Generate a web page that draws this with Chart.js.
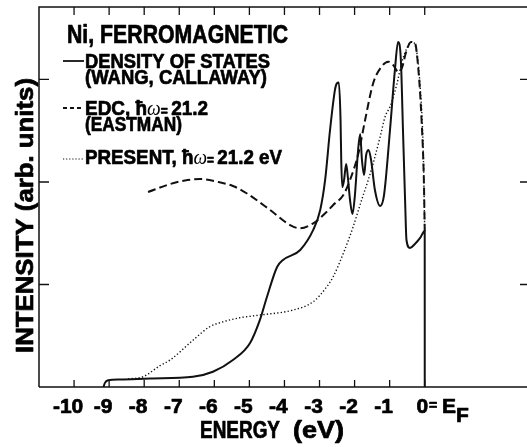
<!DOCTYPE html>
<html><head><meta charset="utf-8">
<script src="https://cdn.jsdelivr.net/npm/chart.js@4/dist/chart.umd.min.js"></script>
<style>html,body{margin:0;padding:0;background:#fff;overflow:hidden}</style>
</head><body>
<canvas id="c" width="527" height="447"></canvas>
<script>
// ---- data (energy in eV, intensity in arb. units) ----
const dosE = [-9.16,-9.12,-9.03,-8.69,-7.83,-6.61,-6.04,-5.47,-4.98,-4.70,-4.50,-4.21,-4.04,-3.55,-3.18,-2.98,-2.84,-2.70,-2.56,-2.51,-2.45,-2.40,-2.38,-2.35,-2.30,-2.24,-2.19,-2.13,-2.06,-1.99,-1.90,-1.84,-1.79,-1.73,-1.67,-1.60,-1.53,-1.42,-1.27,-1.16,-0.99,-0.85,-0.76,-0.68,-0.62,-0.56,-0.52,-0.42,-0.28,-0.13,0,0.001];
const dosV = [0,0.04,0.065,0.073,0.083,0.10,0.149,0.263,0.429,0.654,0.878,1.171,1.239,1.337,1.532,1.727,2.02,2.507,2.898,2.96,2.97,2.60,2.20,1.95,2.02,2.176,2.039,1.824,1.688,1.873,2.312,2.468,2.215,2.068,2.263,2.312,2.215,1.922,1.766,1.873,2.507,3.093,3.366,3.19,2.507,1.824,1.434,1.356,1.395,1.454,1.522,0];

const edcE = [-7.89,-7.26,-6.84,-6.41,-5.93,-5.47,-5.08,-4.41,-3.84,-3.56,-3.18,-2.79,-2.61,-2.32,-2.13,-1.89,-1.70,-1.47,-1.23,-1.04,-0.90,-0.75,-0.65,-0.53,-0.39,-0.28,-0.18,-0.09,-0.02,0];
const edcV = [1.902,1.98,2.015,2.029,2.003,1.961,1.89,1.727,1.58,1.548,1.597,1.71,1.776,1.873,2.02,2.28,2.605,2.963,3.125,3.174,3.141,3.073,3.112,3.268,3.366,3.356,3.093,2.605,1.954,1.522];

const presE = [-8.46,-8.03,-7.55,-7.26,-6.60,-6.14,-5.76,-5.28,-4.70,-3.75,-3.18,-2.79,-2.61,-2.32,-2.04,-1.80,-1.61,-1.47,-1.27,-1.13,-0.99,-0.80,-0.66,-0.51,-0.37,-0.25,-0.13,-0.04,0];
const presV = [0.078,0.10,0.208,0.264,0.459,0.586,0.635,0.675,0.702,0.751,0.832,0.979,1.076,1.304,1.564,1.824,2.02,2.182,2.442,2.637,2.735,2.946,3.158,3.304,3.369,3.307,2.929,2.28,1.522];

const xTickVals = [-10,-9,-8,-7,-6,-5,-4,-3,-2,-1,0];
const xTickLabels = ['-10','-9','-8','-7','-6','-5','-4','-3','-2','-1','0'];
const yTickVals = [1,2,3];

const titleText = 'Ni, FERROMAGNETIC';
const xTitle = ['ENERGY','(eV)'];
const yTitle = 'INTENSITY (arb. units)';

const toXY = (E,V) => E.map((e,i)=>({x:e,y:V[i]}));

const BOLD = (s)=>'bold '+s+'px "Liberation Sans", Arial, sans-serif';
const ITAL = (s)=>'italic '+s+'px "Liberation Serif", serif';
const HEAVY = 0.7;

function drawSegs(ctx, segs, x, y, targetW){
  let total=0;
  segs.forEach(s=>{ctx.font=s[1]; total+=ctx.measureText(s[0]).width;});
  const sx = targetW ? targetW/total : 1;
  ctx.save(); ctx.translate(x,y); ctx.scale(sx,1);
  ctx.lineWidth=HEAVY; ctx.strokeStyle='#000'; ctx.setLineDash([]); ctx.lineJoin='round';
  let cx=0;
  segs.forEach(s=>{ctx.font=s[1]; ctx.fillText(s[0],cx,s[2]||0);
    if(!s[1].startsWith('italic')) ctx.strokeText(s[0],cx,s[2]||0);
    cx+=ctx.measureText(s[0]).width;});
  ctx.restore();
}

const deco = {
  id:'deco',
  afterDatasetsDraw(chart){
    const {ctx, chartArea:a, scales:{x,y}} = chart;
    ctx.save();
    ctx.strokeStyle='#111'; ctx.fillStyle='#000';
    ctx.lineWidth=1.5; ctx.setLineDash([]);
    ctx.beginPath();
    ctx.moveTo(a.left,a.bottom); ctx.lineTo(a.left,a.top); ctx.lineTo(a.right,a.top);
    ctx.moveTo(a.left,a.bottom); ctx.lineTo(a.right,a.bottom);
    ctx.stroke();
    ctx.lineWidth=1.3;
    ctx.beginPath();
    xTickVals.forEach(v=>{const px=x.getPixelForValue(v);
      ctx.moveTo(px,a.top); ctx.lineTo(px,a.top+8);
      ctx.moveTo(px,a.bottom); ctx.lineTo(px,a.bottom-7);});
    yTickVals.forEach(v=>{const py=y.getPixelForValue(v);
      ctx.moveTo(a.left,py); ctx.lineTo(a.left+10,py);
      ctx.moveTo(a.right,py); ctx.lineTo(a.right-7,py);});
    ctx.stroke();

    // x tick labels
    ctx.textBaseline='alphabetic';
    xTickVals.forEach((v,i)=>{
      const px=x.getPixelForValue(v);
      const lab=xTickLabels[i];
      ctx.font=BOLD(21);
      const digits=lab.replace('-','');
      const wd=ctx.measureText(digits).width;
      const wl=ctx.measureText(lab).width;
      drawSegs(ctx,[[lab,BOLD(21)]],px-2.5+wd/2-wl,413,0);
    });
    // "=E_F"
    drawSegs(ctx,[['=',BOLD(14)]],429,410,0);
    drawSegs(ctx,[['E',BOLD(21)]],442,413,0);
    drawSegs(ctx,[['F',BOLD(21)]],456,422,0);

    // axis titles
    drawSegs(ctx,[[xTitle[0],BOLD(23)]],200,438,80);
    drawSegs(ctx,[[xTitle[1],BOLD(23)]],293,438,51);
    ctx.save(); ctx.translate(33,353); ctx.rotate(-Math.PI/2);
    drawSegs(ctx,[[yTitle,BOLD(24)]],0,0,275);
    ctx.restore();

    // legend block
    drawSegs(ctx,[[titleText,BOLD(25)]],67,43,221);
    drawSegs(ctx,[['DENSITY OF STATES',BOLD(20.5)]],85,68,185);
    drawSegs(ctx,[['(WANG, CALLAWAY)',BOLD(20.5)]],85,84,182);
    drawSegs(ctx,[['EDC, ħ',BOLD(20.5)],['ω',ITAL(21)],['= ',BOLD(13)],['21.2',BOLD(20.5)]],85,115,123);
    drawSegs(ctx,[['(EASTMAN)',BOLD(20.5)]],85,131,97);
    drawSegs(ctx,[['PRESENT, ħ',BOLD(20.5)],['ω',ITAL(21)],['= ',BOLD(13)],['21.2 eV',BOLD(20.5)]],85,164,197);

    // legend samples
    ctx.strokeStyle='#111';
    ctx.lineWidth=1.8; ctx.setLineDash([]);
    ctx.beginPath(); ctx.moveTo(63,61); ctx.lineTo(84,61); ctx.stroke();
    ctx.setLineDash([4,3]);
    ctx.beginPath(); ctx.moveTo(63,108); ctx.lineTo(84,108); ctx.stroke();
    ctx.lineWidth=1.2; ctx.setLineDash([1.2,1.9]);
    ctx.beginPath(); ctx.moveTo(63,159); ctx.lineTo(84,159); ctx.stroke();
    ctx.restore();
  }
};

new Chart(document.getElementById('c'),{
  type:'line',
  data:{datasets:[
    {label:'DENSITY OF STATES (WANG, CALLAWAY)', data:toXY(dosE,dosV), borderColor:'#111', borderWidth:2, pointRadius:0, cubicInterpolationMode:'monotone', fill:false},
    {label:'EDC, ħω= 21.2 (EASTMAN)', data:toXY(edcE,edcV), borderColor:'#111', borderWidth:2, borderDash:[8,4], pointRadius:0, cubicInterpolationMode:'monotone', fill:false},
    {label:'PRESENT, ħω= 21.2 eV', data:toXY(presE,presV), borderColor:'#111', borderWidth:1.4, borderDash:[1.3,2.2], pointRadius:0, cubicInterpolationMode:'monotone', fill:false}
  ]},
  options:{
    responsive:false, animation:false, devicePixelRatio:1,
    layout:{padding:{left:39,top:7,right:0,bottom:60}},
    plugins:{legend:{display:false},tooltip:{enabled:false}},
    scales:{
      x:{type:'linear',min:-11,max:2.917,display:false},
      y:{type:'linear',min:0,max:3.707,display:false}
    }
  },
  plugins:[deco]
});
</script>
</body></html>
